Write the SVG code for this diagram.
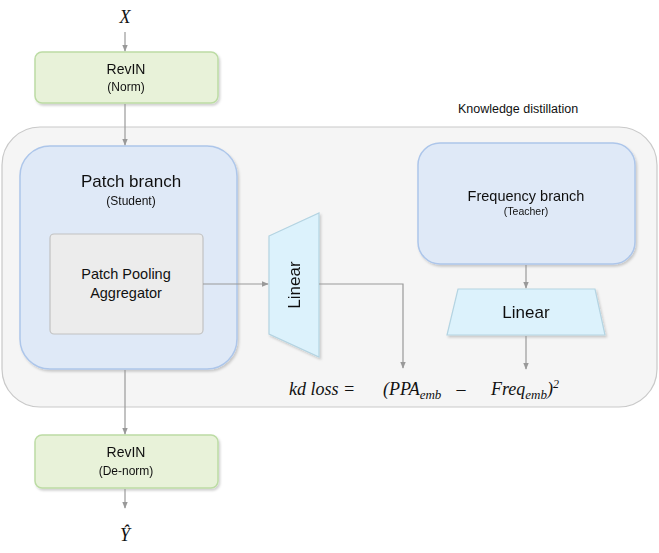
<svg xmlns="http://www.w3.org/2000/svg" width="659" height="553" viewBox="0 0 659 553">
<style>
.t{font-family:"Liberation Sans","Noto Sans",Arial,sans-serif;fill:#111;text-anchor:middle}
.m{font-family:"Liberation Serif","DejaVu Serif",serif;font-style:italic;fill:#111}
.c{fill:none;stroke:#999;stroke-width:1.2}
.green{fill:#e8f2d9;stroke:#bcdca4;stroke-width:1.5}
.blue{fill:#dfe9f7;stroke:#adc6ea;stroke-width:1.5}
.cyan{fill:#dcf2fc;stroke:#b4d4e2;stroke-width:1.2}
</style>
<defs>
<marker id="ah" viewBox="0 0 10 10" refX="9" refY="5" markerWidth="7" markerHeight="7" markerUnits="userSpaceOnUse" orient="auto">
<path d="M0,1 L10,5 L0,9 z" fill="#999"/>
</marker>
<filter id="sh" x="-10%" y="-10%" width="120%" height="130%">
<feDropShadow dx="1.5" dy="2" stdDeviation="1.2" flood-color="#000" flood-opacity="0.18"/>
</filter>
</defs>

<g id="kd-container">
<rect x="2" y="127" width="655" height="280" rx="38" fill="#f5f5f5" stroke="#c9c9c9" stroke-width="1.2"/>
<text class="t" x="518" y="113" font-size="12.5">Knowledge distillation</text>
</g>

<g id="input-x">
<text class="m" x="125" y="23" font-size="18" text-anchor="middle">X</text>
</g>

<g id="revin-norm" filter="url(#sh)">
<rect class="green" x="35" y="52" width="183" height="51" rx="7"/>
<text class="t" x="126" y="74" font-size="14">RevIN</text>
<text class="t" x="126" y="91" font-size="12">(Norm)</text>
</g>

<g id="patch-branch" filter="url(#sh)">
<rect class="blue" x="20" y="146" width="217" height="223" rx="30"/>
<text class="t" x="131" y="187" font-size="17">Patch branch</text>
<text class="t" x="131" y="205" font-size="12">(Student)</text>
</g>

<g id="patch-pooling">
<rect x="50" y="234" width="153" height="100" rx="4" fill="#ececec" stroke="#c2c2c2" stroke-width="1.2"/>
<text class="t" x="126" y="279" font-size="14.5">Patch Pooling</text>
<text class="t" x="126" y="298" font-size="14.5">Aggregator</text>
</g>

<g id="linear-student" filter="url(#sh)">
<polygon class="cyan" points="269,236 319,213 319,357 269,334"/>
<text class="t" x="0" y="0" font-size="17" transform="translate(300,285) rotate(-90)">Linear</text>
</g>

<g id="frequency-branch" filter="url(#sh)">
<rect class="blue" x="418" y="143" width="217" height="121" rx="22"/>
<text class="t" x="526" y="201" font-size="14.5">Frequency branch</text>
<text class="t" x="526" y="215" font-size="10.5">(Teacher)</text>
</g>

<g id="linear-teacher" filter="url(#sh)">
<polygon class="cyan" points="458,289 595,289 605,335 447,335"/>
<text class="t" x="526" y="318" font-size="17">Linear</text>
</g>

<g id="kd-loss">
<text class="m" x="289" y="395" font-size="18">kd loss =</text>
<text class="m" x="383" y="395" font-size="18">(PPA<tspan font-size="13" dy="4">emb</tspan></text>
<text class="m" x="461" y="395" font-size="18" text-anchor="middle">–</text>
<text class="m" x="491" y="395" font-size="18">Freq<tspan font-size="13" dy="4">emb</tspan><tspan dy="-4">)</tspan><tspan font-size="12" dy="-7">2</tspan></text>
</g>

<g id="revin-denorm" filter="url(#sh)">
<rect class="green" x="35" y="435" width="183" height="53" rx="7"/>
<text class="t" x="126" y="457" font-size="14">RevIN</text>
<text class="t" x="126" y="475" font-size="12">(De-norm)</text>
</g>

<g id="output-y">
<text class="m" x="125" y="541" font-size="18" text-anchor="middle">Ŷ</text>
</g>

<g id="connectors">
<line class="c" x1="125" y1="32" x2="125" y2="51" marker-end="url(#ah)"/>
<line class="c" x1="125" y1="104" x2="125" y2="145" marker-end="url(#ah)"/>
<line class="c" x1="203" y1="284" x2="268" y2="284" marker-end="url(#ah)"/>
<polyline class="c" points="319,284 403,284 403,368" marker-end="url(#ah)"/>
<line class="c" x1="526" y1="265" x2="526" y2="288" marker-end="url(#ah)"/>
<line class="c" x1="526" y1="336" x2="526" y2="369" marker-end="url(#ah)"/>
<line class="c" x1="125" y1="370" x2="125" y2="434" marker-end="url(#ah)"/>
<line class="c" x1="125" y1="489" x2="125" y2="508" marker-end="url(#ah)"/>
</g>
</svg>
